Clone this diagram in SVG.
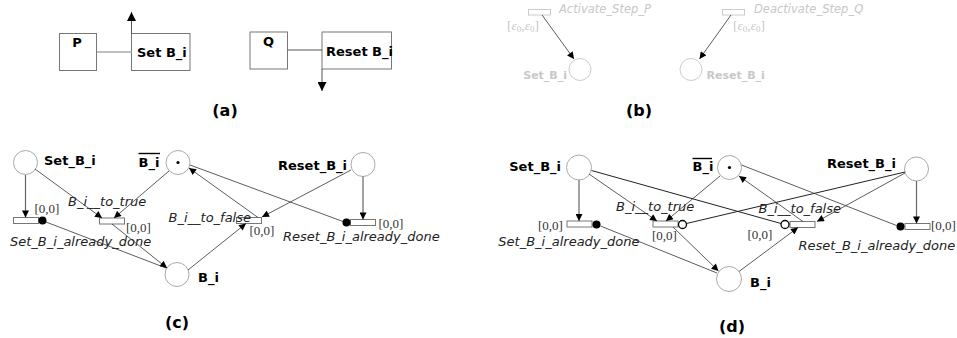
<svg xmlns="http://www.w3.org/2000/svg" width="957" height="338" viewBox="0 0 957 338">
<defs>
<marker id="ah" viewBox="0 0 10 10" refX="10" refY="5" markerWidth="8" markerHeight="7" markerUnits="userSpaceOnUse" orient="auto"><path d="M0,0 L10,5 L0,10 z" fill="#000"/></marker>
<marker id="ahb" viewBox="0 0 10 10" refX="10" refY="5" markerWidth="10" markerHeight="9" markerUnits="userSpaceOnUse" orient="auto"><path d="M0,0 L10,5 L0,10 z" fill="#000"/></marker>
</defs>
<style>
.box{fill:#fff;stroke:#777;stroke-width:1}
.bl{font-family:"DejaVu Sans",sans-serif;font-weight:bold;font-size:13px;fill:#000}
.cap{font-family:"DejaVu Sans",sans-serif;font-weight:bold;font-size:16px;fill:#000;text-anchor:middle}
.pl{fill:#fff;stroke:#aaa;stroke-width:1}
.tr{fill:#fff;stroke:#777;stroke-width:1}
.it{font-family:"DejaVu Sans",sans-serif;font-style:italic;font-size:13px;fill:#222}
.iv{font-family:"Liberation Serif",serif;font-size:13px;fill:#333}
.ar{fill:none;stroke:#333;stroke-width:0.8}
.av{fill:none;stroke:#666;stroke-width:1.2}
.gp{fill:#fff;stroke:#ccc;stroke-width:1}
.gt{font-family:"DejaVu Sans",sans-serif;font-style:italic;font-size:11.5px;fill:#c8c8c8}
.gb{font-family:"DejaVu Sans",sans-serif;font-weight:bold;font-size:11px;fill:#c8c8c8}
.gs{font-family:"Liberation Serif",serif;font-size:13.5px;fill:#c8c8c8}
.e{font-style:italic}
.sb{font-size:9px}
</style>

<!-- (a) -->
<g id="a-P"><rect class="box" x="59.5" y="33.5" width="37" height="37"/><text class="bl" x="77" y="47" text-anchor="middle">P</text></g>
<g id="a-Set"><rect class="box" x="131.5" y="33.5" width="58.5" height="37"/><text class="bl" x="137" y="57">Set B_i</text></g>
<g id="a-Q"><rect class="box" x="250" y="32" width="37.5" height="37"/><text class="bl" x="268.5" y="46" text-anchor="middle">Q</text></g>
<g id="a-Reset"><rect class="box" x="322" y="32" width="69.5" height="37"/><text class="bl" x="326" y="56">Reset B_i</text></g>
<g id="a-connectors">
<line x1="97" y1="52" x2="131.5" y2="52" stroke="#aaa" stroke-width="1.5"/>
<line x1="131.5" y1="33.5" x2="131.5" y2="12" stroke="#555" stroke-width="1" marker-end="url(#ahb)"/>
<line x1="287.5" y1="50" x2="322" y2="50" stroke="#555" stroke-width="1"/>
<line x1="322" y1="69" x2="322" y2="91" stroke="#555" stroke-width="1" marker-end="url(#ahb)"/>
</g>
<text class="cap" x="225" y="116">(a)</text>

<!-- (b) -->
<g id="b-Activate"><rect class="gp" x="528.5" y="9.5" width="22" height="5.5"/><text class="gt" x="559" y="13">Activate_Step_P</text><text class="gs" x="507" y="30">[<tspan class="e">ε</tspan><tspan class="sb" dy="2">0</tspan><tspan dy="-2">,</tspan><tspan class="e">ε</tspan><tspan class="sb" dy="2">0</tspan><tspan dy="-2">]</tspan></text></g>
<g id="b-Set"><circle class="gp" cx="580" cy="69.5" r="11"/><text class="gb" x="567" y="79" text-anchor="end">Set_B_i</text></g>
<g id="b-Deactivate"><rect class="gp" x="722.5" y="9.5" width="22" height="5.5"/><text class="gt" x="754" y="13">Deactivate_Step_Q</text><text class="gs" x="733" y="30">[<tspan class="e">ε</tspan><tspan class="sb" dy="2">0</tspan><tspan dy="-2">,</tspan><tspan class="e">ε</tspan><tspan class="sb" dy="2">0</tspan><tspan dy="-2">]</tspan></text></g>
<g id="b-Reset"><circle class="gp" cx="691" cy="69.5" r="11"/><text class="gb" x="706.5" y="79">Reset_B_i</text></g>
<g id="b-connectors">
<line class="ar" x1="542" y1="15" x2="574" y2="59" marker-end="url(#ah)"/>
<line class="ar" x1="731" y1="15" x2="699.5" y2="59" marker-end="url(#ah)"/>
</g>
<text class="cap" x="639" y="116">(b)</text>

<!-- (c) -->
<g id="c-Set"><circle class="pl" cx="25.5" cy="162.5" r="12"/><text class="bl" x="44" y="165">Set_B_i</text></g>
<g id="c-Bbar"><circle class="pl" cx="178" cy="162.5" r="12"/><circle cx="178" cy="162.5" r="1.6" fill="#000"/><text class="bl" x="138.5" y="166.5">B_i</text><line x1="138.5" y1="153.5" x2="160" y2="153.5" stroke="#000" stroke-width="1.4"/></g>
<g id="c-B"><circle class="pl" cx="177" cy="274.5" r="12"/><text class="bl" x="198" y="281.5">B_i</text></g>
<g id="c-Reset"><circle class="pl" cx="363" cy="164.5" r="12"/><text class="bl" x="347" y="170" text-anchor="end">Reset_B_i</text></g>
<g id="c-SAD"><rect class="tr" x="13.5" y="217.5" width="25" height="6"/><text class="iv" x="34.5" y="212.5">[0,0]</text><text class="it" x="10" y="246">Set_B_i_already_done</text></g>
<g id="c-TT"><rect class="tr" x="99.5" y="218" width="25" height="6"/><text class="iv" x="126" y="231.5">[0,0]</text><text class="it" x="68" y="205.5">B_i__to_true</text></g>
<g id="c-TF"><rect class="tr" x="236.5" y="217.5" width="25" height="6"/><text class="iv" x="249.5" y="235">[0,0]</text><text class="it" x="168.5" y="222">B_i__to_false</text></g>
<g id="c-RAD"><rect class="tr" x="350.5" y="219.5" width="25" height="6"/><text class="iv" x="378.5" y="227.5">[0,0]</text><text class="it" x="283" y="241">Reset_B_i_already_done</text></g>
<g id="c-connectors">
<line class="av" x1="25.5" y1="175" x2="25.5" y2="217.5" marker-end="url(#ah)"/>
<line class="ar" x1="35" y1="169" x2="102" y2="218" marker-end="url(#ah)"/>
<line class="ar" x1="169" y1="171" x2="114" y2="218" marker-end="url(#ah)"/>
<line class="ar" x1="112" y1="224" x2="167" y2="268" marker-end="url(#ah)"/>
<line class="ar" x1="46" y1="222" x2="166" y2="268"/>
<circle cx="42.5" cy="220.5" r="4" fill="#000"/>
<line class="ar" x1="188" y1="270" x2="246" y2="223.5" marker-end="url(#ah)"/>
<line class="ar" x1="351" y1="170" x2="262" y2="217" marker-end="url(#ah)"/>
<line class="ar" x1="258" y1="217.5" x2="189" y2="168" marker-end="url(#ah)"/>
<line class="ar" x1="190" y1="165" x2="343" y2="221.5"/>
<circle cx="346.5" cy="222.5" r="4" fill="#000"/>
<line class="av" x1="363" y1="176.5" x2="363" y2="219.5" marker-end="url(#ah)"/>
</g>
<text class="cap" x="177" y="328">(c)</text>

<!-- (d) -->
<g id="d-Set"><circle class="pl" cx="579" cy="167.5" r="12.5"/><text class="bl" x="561" y="170.5" text-anchor="end">Set_B_i</text></g>
<g id="d-Bbar"><circle class="pl" cx="729.5" cy="167.5" r="12"/><circle cx="729.5" cy="167.5" r="1.6" fill="#000"/><text class="bl" x="692.5" y="170.5">B_i</text><line x1="692.5" y1="158.5" x2="712" y2="158.5" stroke="#000" stroke-width="1.4"/></g>
<g id="d-B"><circle class="pl" cx="729" cy="279" r="12.5"/><text class="bl" x="750" y="286.5">B_i</text></g>
<g id="d-Reset"><circle class="pl" cx="916.5" cy="169" r="12"/><text class="bl" x="827" y="167.5">Reset_B_i</text></g>
<g id="d-SAD"><rect class="tr" x="567" y="221" width="25" height="6"/><text class="iv" x="538" y="229.5">[0,0]</text><text class="it" x="639.5" y="246" text-anchor="end">Set_B_i_already_done</text></g>
<g id="d-TT"><rect class="tr" x="653" y="221" width="25" height="6"/><text class="iv" x="652" y="240">[0,0]</text><text class="it" x="616" y="210.5">B_i__to_true</text></g>
<g id="d-TF"><rect class="tr" x="790" y="221.5" width="25" height="6"/><text class="iv" x="747.5" y="238.5">[0,0]</text><text class="it" x="758.5" y="213">B_i__to_false</text></g>
<g id="d-RAD"><rect class="tr" x="905" y="223.5" width="25" height="6"/><text class="iv" x="931" y="230">[0,0]</text><text class="it" x="798.5" y="250">Reset_B_i_already_done</text></g>
<g id="d-connectors">
<line class="av" x1="579" y1="180" x2="579" y2="221" marker-end="url(#ah)"/>
<line class="ar" x1="589" y1="174" x2="657" y2="221" marker-end="url(#ah)"/>
<line class="ar" x1="720" y1="176" x2="666" y2="221" marker-end="url(#ah)"/>
<line class="ar" x1="673" y1="227" x2="718.5" y2="271" marker-end="url(#ah)"/>
<line class="ar" x1="600.5" y1="226" x2="717" y2="273"/>
<circle cx="596.5" cy="224.5" r="4" fill="#000"/>
<line x1="591.5" y1="170.5" x2="781" y2="223.5" stroke="#222" stroke-width="1"/>
<line x1="905" y1="172" x2="686.5" y2="223.5" stroke="#222" stroke-width="1"/>
<circle cx="682.5" cy="224.5" r="4" fill="#fff" stroke="#000" stroke-width="1.3"/>
<circle cx="785" cy="224.5" r="4" fill="#fff" stroke="#000" stroke-width="1.3"/>
<line class="ar" x1="739" y1="271.5" x2="798" y2="227.5" marker-end="url(#ah)"/>
<line class="ar" x1="905" y1="173" x2="817" y2="221.5" marker-end="url(#ah)"/>
<line class="ar" x1="803" y1="221.5" x2="739" y2="176" marker-end="url(#ah)"/>
<line class="ar" x1="741.5" y1="165" x2="896.5" y2="225.5"/>
<circle cx="900.5" cy="226.5" r="4" fill="#000"/>
<line class="av" x1="916.5" y1="181" x2="916.5" y2="223.5" marker-end="url(#ah)"/>
</g>
<text class="cap" x="732" y="332">(d)</text>
</svg>
